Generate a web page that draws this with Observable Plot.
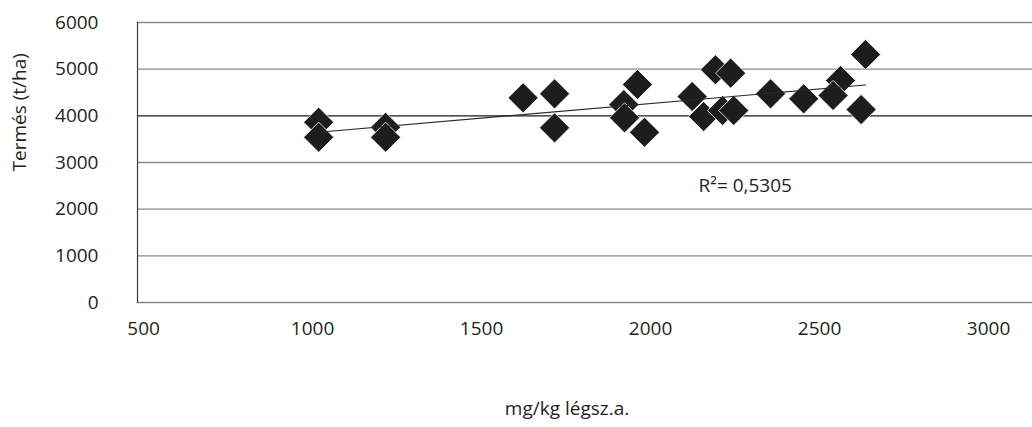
<!DOCTYPE html>
<html>
<head>
<meta charset="utf-8">
<script src="https://cdn.jsdelivr.net/npm/d3@7"></script>
<script src="https://cdn.jsdelivr.net/npm/@observablehq/plot@0.6"></script>
<style>
  html, body { margin: 0; padding: 0; background: #fff; }
</style>
</head>
<body>
<div id="chart"></div>
<script>
// Data
const xValues = [1018, 1018, 1216, 1216, 1623, 1716, 1716, 1961, 1921, 1923, 1982, 2123, 2157, 2192, 2237, 2213, 2246, 2355, 2453, 2562, 2540, 2636, 2623];
const yValues = [3863, 3541, 3755, 3541, 4386, 4472, 3742, 4672, 4242, 3957, 3648, 4414, 3985, 4987, 4915, 4114, 4114, 4472, 4365, 4757, 4436, 5315, 4135];
const xTicks = [500, 1000, 1500, 2000, 2500, 3000];
const yTicks = [0, 1000, 2000, 3000, 4000, 5000, 6000];
const xTitle = "mg/kg légsz.a.";
const yTitle = "Termés (t/ha)";
const r2Label = "R²= 0,5305";
const r2At = {x: 2142, y: 2500};

const points = xValues.map((x, i) => ({x, y: yValues[i]}));

const textColor = "#231f20";
const plot = Plot.plot({
  width: 1032,
  height: 427,
  marginLeft: 137,
  marginRight: 0,
  marginTop: 22,
  marginBottom: 125,
  style: {fontFamily: "'Open Sans', sans-serif", fontSize: "19px", color: textColor, background: "#fff"},
  x: {domain: [482, 3130], ticks: xTicks, tickFormat: d3.format("d")},
  y: {domain: [0, 6000], ticks: yTicks, tickFormat: d3.format("d")},
  marks: [
    Plot.ruleY(yTicks.filter(d => d !== 4000), {stroke: "#8a8a8a", strokeWidth: 1.3}),
    Plot.ruleY(yTicks.filter(d => d === 4000), {stroke: "#1a1a1a", strokeWidth: 1.3}),
    Plot.frame({anchor: "left", stroke: "#3a3a3a", strokeWidth: 1.2}),
    Plot.axisY({ticks: yTicks, tickSize: 0, tickPadding: 39, label: null, fontSize: 19, tickFormat: d3.format("d")}),
    Plot.axisX({ticks: xTicks, tickSize: 0, tickPadding: 19, label: null, fontSize: 19, tickFormat: d3.format("d")}),
    Plot.dot(points, {x: "x", y: "y", symbol: "diamond2", r: 13.6, fill: "#1d1d1b", stroke: "#fff", strokeWidth: 0.8}),
    Plot.linearRegressionY(points, {x: "x", y: "y", ci: 0, stroke: "#2a2a2a", strokeWidth: 1.2}),
    Plot.text([r2Label], {x: () => r2At.x, y: () => r2At.y, text: d => d, textAnchor: "start", fontSize: 19, fill: textColor}),
    Plot.text([yTitle], {frameAnchor: "left", text: d => d, rotate: -90, dx: -118, dy: 9, fontSize: 19, fill: textColor}),
    Plot.text([xTitle], {frameAnchor: "bottom", text: d => d, dx: -18, dy: 112, fontSize: 19, fill: textColor})
  ]
});
document.getElementById("chart").appendChild(plot);
</script>
</body>
</html>
